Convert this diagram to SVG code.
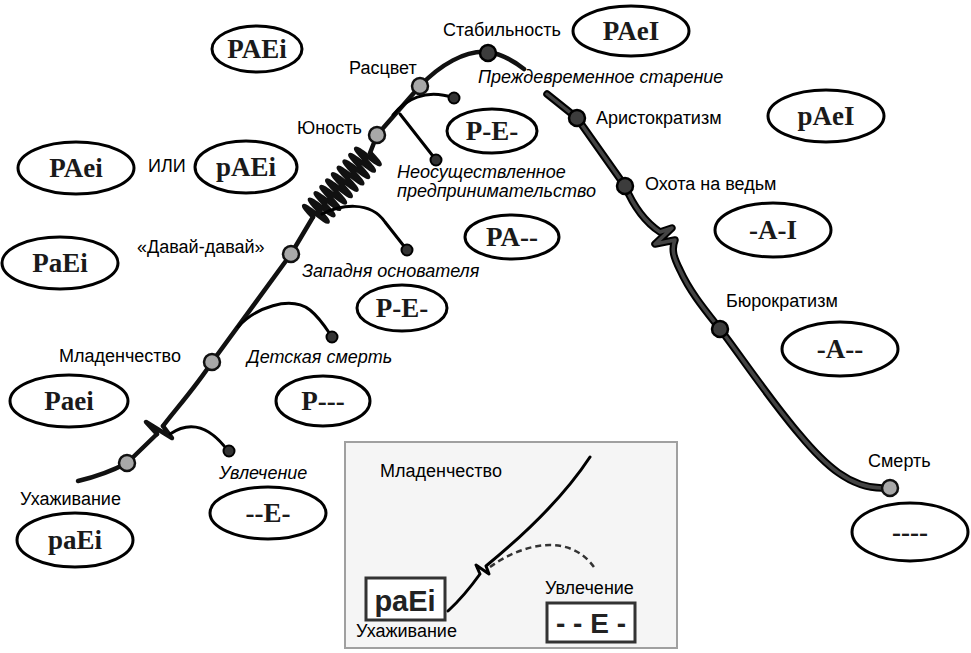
<svg xmlns="http://www.w3.org/2000/svg" width="971" height="653" viewBox="0 0 971 653">
<style>
.ell{fill:#fff;stroke:#000;stroke-width:3}
.et{font-family:"Liberation Serif",serif;font-weight:bold;font-size:27px;fill:#1a1a1a;text-anchor:middle}
.lb{font-family:"Liberation Sans",Arial,sans-serif;font-size:18px;fill:#000}
.it{font-style:italic}
.main{fill:none;stroke:#111;stroke-width:4.5;stroke-linecap:round;stroke-linejoin:round}
.outer{fill:none;stroke:#000;stroke-width:7.5;stroke-linecap:round;stroke-linejoin:round}
.inner{fill:none;stroke:#444;stroke-width:3.5;stroke-linecap:round;stroke-linejoin:round}
.br{fill:none;stroke:#000;stroke-width:3;stroke-linecap:round}
.gn{fill:#a8a8a8;stroke:#111;stroke-width:2.5}
.dn{fill:#3c3c3c;stroke:#000;stroke-width:2.5}
.end{fill:#333;stroke:#000;stroke-width:2}
</style>
<rect width="971" height="653" fill="#fff"/>

<g id="connectors">
  <!-- left ascending segment -->
  <path class="main" d="M78,481 C95,477 112,471 127,463 L157,434"/>
  <path class="main" stroke-width="6.5" d="M157,434 L146,422 L172,438 L163,426"/>
  <path class="main" d="M163,426 C175,410 195,388 212,362 L291,254 L313,217"/>
  <path class="main" stroke-width="4.5" d="M313,217 q2.15,-28 4.3,0 t4.3,0 t4.3,0 t4.3,0 t4.3,0 t4.3,0 t4.3,0 t4.3,0 t4.3,0 t4.3,0 t4.3,0 t4.3,0 t4.3,0 t4.3,0 t4.3,0 t4.3,0 t4.3,0 t4.3,0 t4.3,0 t4.3,0" transform="rotate(-47.8 313 217)"/>
  <path class="main" d="M370,153 L377,135 L420,86 C440,65 465,50 488,52 C503,54 515,62 524,69"/>
  <!-- right descending segment -->
  <path class="outer" d="M547,94 L577,118 L625,186 C633,205 645,222 660,232 L672,228 L655,244 L675,240 C671,250 674,258 680,270 C690,292 705,310 720,329 C740,355 770,400 800,435 C825,465 850,488 882,488"/>
  <path class="inner" d="M547,94 L577,118 L625,186 C633,205 645,222 660,232 L672,228 L655,244 L675,240 C671,250 674,258 680,270 C690,292 705,310 720,329 C740,355 770,400 800,435 C825,465 850,488 882,488"/>
  <!-- branches -->
  <path class="br" d="M170,434 C185,424 205,420 228,451"/>
  <path class="br" d="M238,327 C255,308 290,295 310,310 C320,318 326,328 332,337"/>
  <path class="br" d="M322,214 C340,205 370,200 385,222 L407,250"/>
  <path class="br" d="M393,115 C405,100 425,88 454,98"/>
  <path class="br" d="M400,114 L436,160"/>
</g>

<g id="branch-ends">
  <circle class="end" cx="229" cy="451" r="5.5"/>
  <circle class="end" cx="332" cy="337" r="5.5"/>
  <circle class="end" cx="407" cy="250" r="5.5"/>
  <circle class="end" cx="454" cy="98" r="5.5"/>
  <circle class="end" cx="436" cy="160" r="5.5"/>
</g>

<g id="n-courtship"><circle class="gn" cx="127" cy="463" r="8"/><text class="lb" x="20" y="505">Ухаживание</text></g>
<g id="n-infancy"><circle class="gn" cx="212" cy="362" r="8"/><text class="lb" x="59" y="362">Младенчество</text></g>
<g id="n-gogo"><circle class="gn" cx="291" cy="254" r="8"/><text class="lb" x="137" y="253">«Давай-давай»</text></g>
<g id="n-adolescence"><circle class="gn" cx="377" cy="135" r="8"/><text class="lb" x="297" y="134">Юность</text></g>
<g id="n-prime"><circle class="gn" cx="420" cy="86" r="8"/><text class="lb" x="349" y="74">Расцвет</text></g>
<g id="n-stable"><circle class="dn" cx="488" cy="53" r="8"/><text class="lb" x="443" y="36">Стабильность</text></g>
<g id="n-aristocracy"><circle class="dn" cx="577" cy="118" r="8"/><text class="lb" x="596" y="124">Аристократизм</text></g>
<g id="n-witchhunt"><circle class="dn" cx="625" cy="186" r="8"/><text class="lb" x="645" y="190">Охота на ведьм</text></g>
<g id="n-bureaucracy"><circle class="dn" cx="720" cy="329" r="8"/><text class="lb" x="726" y="307">Бюрократизм</text></g>
<g id="n-death"><circle class="gn" cx="890" cy="488" r="8"/><text class="lb" x="868" y="467">Смерть</text></g>

<g id="italic-labels">
  <text class="lb it" x="478" y="83">Преждевременное старение</text>
  <text class="lb it" x="397" y="178">Неосуществленное</text>
  <text class="lb it" x="397" y="197">предпринимательство</text>
  <text class="lb it" x="302" y="277">Западня основателя</text>
  <text class="lb it" x="247" y="363">Детская смерть</text>
  <text class="lb it" x="219" y="479">Увлечение</text>
</g>

<g id="e-PAEi"><ellipse class="ell" cx="257" cy="49" rx="45" ry="23"/><text class="et" x="257" y="58">PAEi</text></g>
<g id="e-PAeI"><ellipse class="ell" cx="631" cy="31" rx="58" ry="25"/><text class="et" x="631" y="40">PAeI</text></g>
<g id="e-pAeI"><ellipse class="ell" cx="826" cy="116" rx="58" ry="26"/><text class="et" x="826" y="125">pAeI</text></g>
<g id="e-PE1"><ellipse class="ell" cx="492" cy="131" rx="45" ry="22"/><text class="et" x="492" y="140">P-E-</text></g>
<g id="e-PAei"><ellipse class="ell" cx="76" cy="168" rx="58" ry="26"/><text class="et" x="76" y="177">PAei</text></g>
<text class="lb" x="148" y="172">ИЛИ</text>
<g id="e-pAEi"><ellipse class="ell" cx="246" cy="167" rx="51" ry="26"/><text class="et" x="246" y="176">pAEi</text></g>
<g id="e-AI"><ellipse class="ell" cx="773" cy="230" rx="58" ry="27"/><text class="et" x="773" y="239">-A-I</text></g>
<g id="e-PA"><ellipse class="ell" cx="512" cy="237" rx="47" ry="22"/><text class="et" x="512" y="246">PA--</text></g>
<g id="e-PaEi"><ellipse class="ell" cx="60" cy="263" rx="58" ry="26"/><text class="et" x="60" y="272">PaEi</text></g>
<g id="e-PE2"><ellipse class="ell" cx="402" cy="308" rx="45" ry="23"/><text class="et" x="402" y="317">P-E-</text></g>
<g id="e-A"><ellipse class="ell" cx="840" cy="349" rx="58" ry="27"/><text class="et" x="840" y="358">-A--</text></g>
<g id="e-Paei"><ellipse class="ell" cx="69" cy="401" rx="59" ry="26"/><text class="et" x="69" y="410">Paei</text></g>
<g id="e-P"><ellipse class="ell" cx="323" cy="401" rx="47" ry="25"/><text class="et" x="323" y="410">P---</text></g>
<g id="e-E"><ellipse class="ell" cx="268" cy="513" rx="58" ry="26"/><text class="et" x="268" y="522">--E-</text></g>
<g id="e-paEi"><ellipse class="ell" cx="75" cy="540" rx="58" ry="27"/><text class="et" x="75" y="549">paEi</text></g>
<g id="e-none"><ellipse class="ell" cx="910" cy="532" rx="58" ry="29"/><text class="et" x="910" y="541">----</text></g>

<g id="inset">
  <rect x="345" y="442" width="332" height="206" fill="#f5f5f5" stroke="#a0a0a0" stroke-width="2"/>
  <text class="lb" x="380" y="477">Младенчество</text>
  <path fill="none" stroke="#000" stroke-width="3" stroke-linecap="round" stroke-linejoin="round" d="M448,611 C460,600 470,588 480,574 L476,565 L489,574 L486,566 C530,530 565,495 590,457"/>
  <path fill="none" stroke="#333" stroke-width="2.5" stroke-dasharray="6,4" d="M490,567 C520,545 570,530 596,570"/>
  <rect x="366" y="578" width="79" height="42" fill="#fff" stroke="#333" stroke-width="3"/>
  <text x="405" y="611" font-family="Liberation Sans,Arial,sans-serif" font-weight="bold" font-size="29" text-anchor="middle" fill="#222">paEi</text>
  <text class="lb" x="356" y="637">Ухаживание</text>
  <text class="lb" x="545" y="594">Увлечение</text>
  <rect x="547" y="603" width="88" height="39" fill="#fff" stroke="#333" stroke-width="3"/>
  <text x="591" y="633" font-family="Liberation Sans,Arial,sans-serif" font-weight="bold" font-size="28" text-anchor="middle" fill="#222">- - E -</text>
</g>
</svg>
